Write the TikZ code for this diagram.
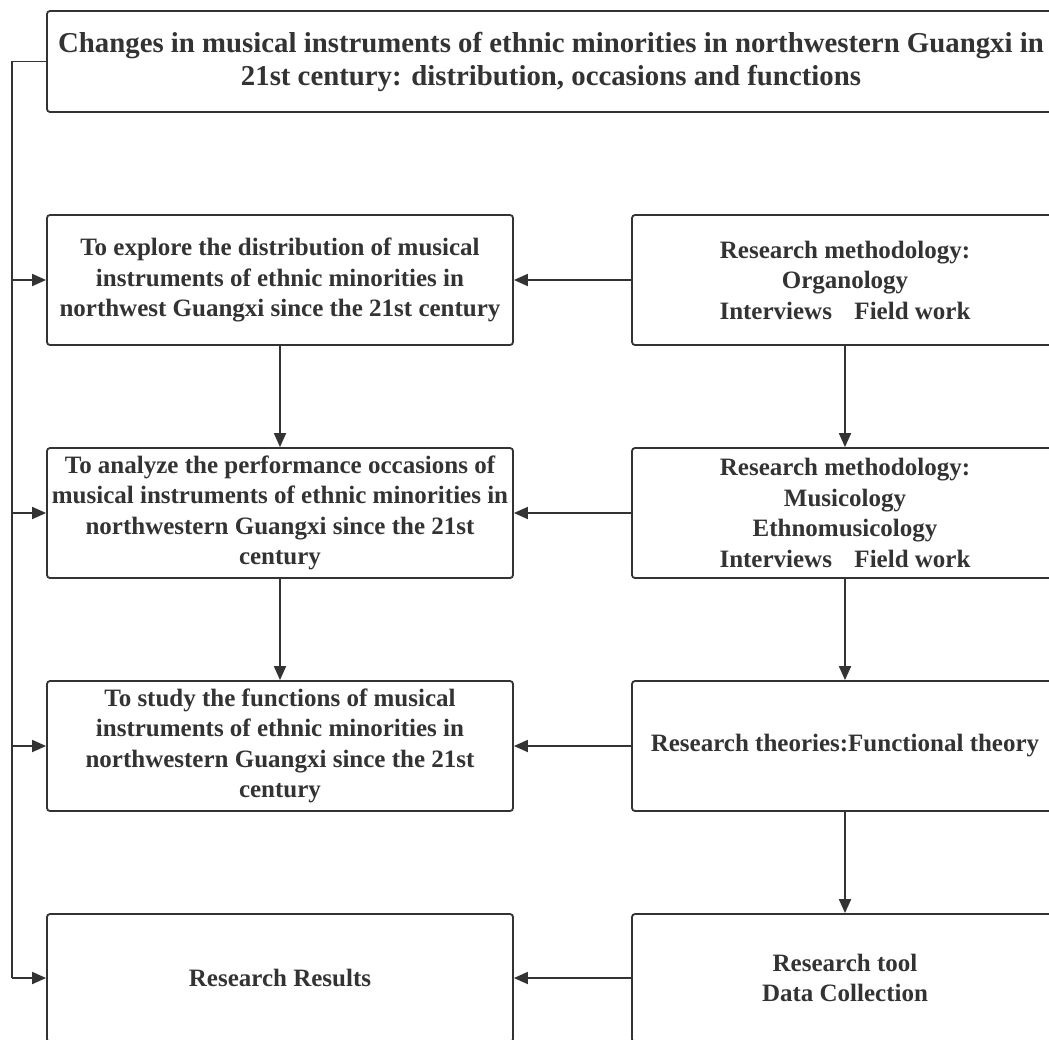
\documentclass[tikz,border=0pt]{standalone}
\usepackage{fontspec}
\setmainfont{Liberation Serif}
\usepackage{xcolor}
\usetikzlibrary{arrows.meta}
\definecolor{ink}{HTML}{333333}
\tikzset{
  bx/.style={draw=ink,line width=1.8pt,rounded corners=3pt,align=center,text=ink,inner sep=0pt,
    font=\bfseries\fontsize{25}{30.5}\selectfont},
  lbx/.style={bx,minimum width=466pt,minimum height=130pt},
  rbx/.style={bx,minimum width=426pt,minimum height=130pt},
  ln/.style={draw=ink,line width=1.8pt},
  ar/.style={ln,-{Triangle[length=14pt,width=12pt]}}
}

\begin{document}
\begin{tikzpicture}[x=1pt,y=-1pt]
\useasboundingbox (0,0) rectangle (1049,1039);
\clip (0,0) rectangle (1049,1039);
\node[bx,minimum width=1008pt,minimum height=101pt,font=\bfseries\fontsize{28.8}{33}\selectfont] (ttl) at (551,61.5)
  {Changes in musical instruments of ethnic minorities in northwestern Guangxi in\\21st century: distribution, occasions and functions};
\node[lbx] (dist) at (280,280) {To explore the distribution of musical\\instruments of ethnic minorities in\\northwest Guangxi since the 21st century};
\node[lbx] (occ) at (280,513) {To analyze the performance occasions of\\musical instruments of ethnic minorities in\\northwestern Guangxi since the 21st\\century};
\node[lbx] (fun) at (280,746) {To study the functions of musical\\instruments of ethnic minorities in\\northwestern Guangxi since the 21st\\century};
\node[lbx,minimum height=128pt] (res) at (280,978) {Research Results};
\node[rbx] (org) at (845,280) {Research methodology:\\Organology\\Interviews\hspace{0.9em}Field work};
\node[rbx] (mus) at (845,513) {Research methodology:\\Musicology\\Ethnomusicology\\Interviews\hspace{0.9em}Field work};
\node[rbx] (thy) at (845,746) {Research theories:Functional theory};
\node[rbx,minimum height=128pt] (tool) at (845,978) {Research tool\\Data Collection};
\coordinate (rail) at (12,0);
\draw[ln] (ttl.west) -- (rail |- ttl.west) -- (rail |- res.west);
\foreach \n in {dist,occ,fun,res} \draw[ar] (rail |- \n.west) -- (\n.west);
\draw[ar] (org.west) -- (dist.east);
\draw[ar] (mus.west) -- (occ.east);
\draw[ar] (thy.west) -- (fun.east);
\draw[ar] (tool.west) -- (res.east);
\draw[ar] (dist.south) -- (occ.north);
\draw[ar] (occ.south) -- (fun.north);
\draw[ar] (org.south) -- (mus.north);
\draw[ar] (mus.south) -- (thy.north);
\draw[ar] (thy.south) -- (tool.north);
\end{tikzpicture}
\end{document}
